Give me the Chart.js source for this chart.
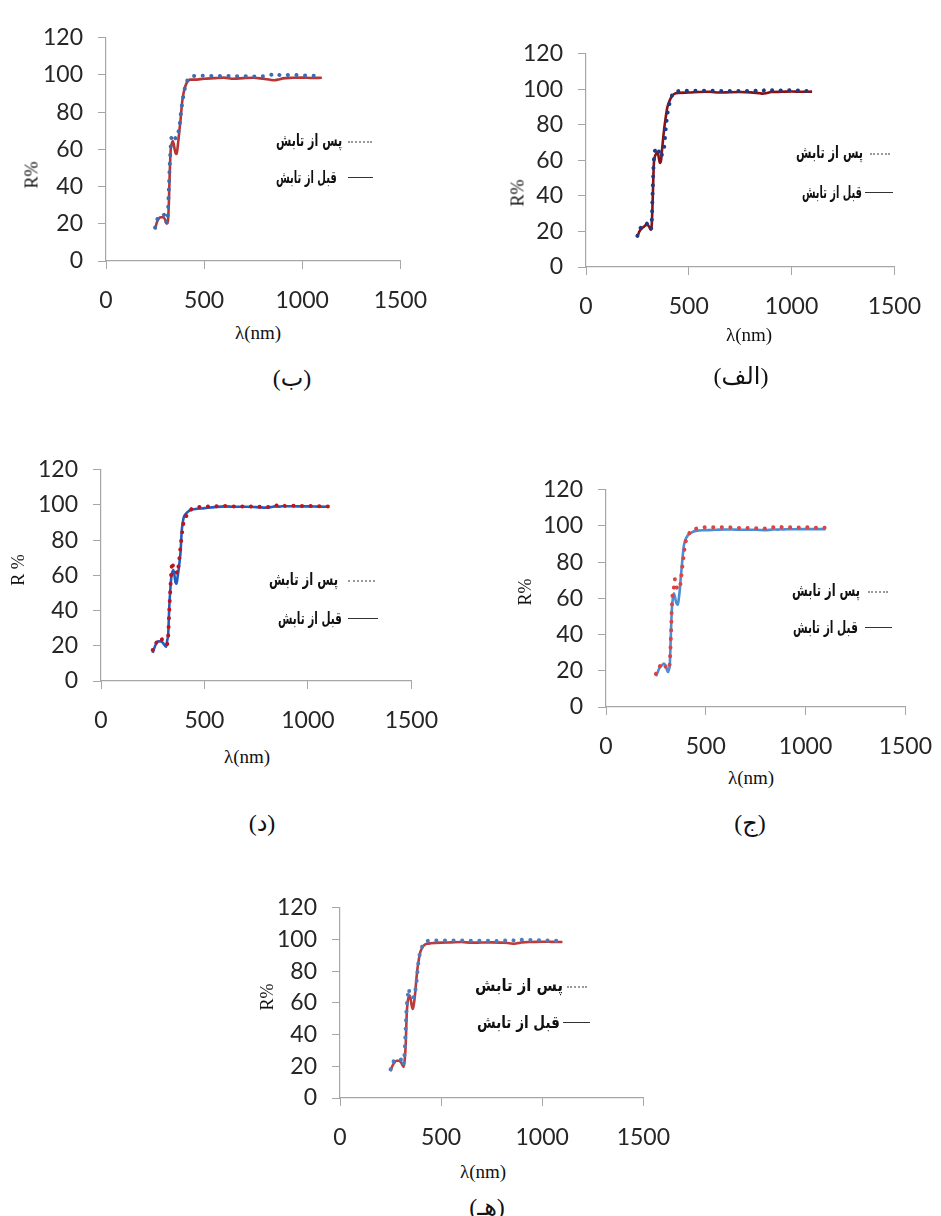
<!DOCTYPE html>
<html>
<head>
<meta charset="utf-8">
<script src="https://cdn.jsdelivr.net/npm/chart.js@4.4.1/dist/chart.umd.min.js"></script>
<style>
  html, body { margin: 0; padding: 0; background: #fff; overflow: hidden; }
  body { width: 941px; height: 1216px; position: relative; }
  canvas { position: absolute; }
  .txt { position: absolute; white-space: nowrap; color: #111; }
  .ytitle { font-family: 'Liberation Serif', serif; font-size: 18px; transform: translate(-50%, -50%) rotate(-90deg); }
  .xtitle { font-family: 'Liberation Serif', serif; font-size: 19px; transform: translate(-50%, -50%); }
  .caption { font-family: 'Liberation Serif', 'DejaVu Sans', serif; font-size: 24px; transform: translate(-50%, -50%); }
  .leg { font-family: 'DejaVu Sans', sans-serif; font-size: 17px; font-weight: bold; direction: rtl; transform-origin: 100% 50%; }
  .sample { position: absolute; height: 0; }
</style>
</head>
<body>
<script>
// wavelength grid (nm), shared by all panels
const wavelength = [250, 260, 270, 280, 290, 300, 310, 315, 320, 325, 330, 335, 340, 345, 350, 355, 360, 365, 370, 375,
  380, 385, 390, 395, 400, 410, 420, 430, 450, 500, 550, 600, 650, 700, 750, 800, 830, 845, 860, 875, 890, 900, 950, 1000, 1050, 1100];

const xTicks = [0, 500, 1000, 1500];
const yTicks = [0, 20, 40, 60, 80, 100, 120];

const labelBefore = 'قبل از تابش';
const labelAfter = 'پس از تابش';

// (الف)
const beforeAlef = [17, 20, 21.5, 22.5, 23.5, 23.8, 22, 21, 24, 40, 58, 62, 63.5, 64.5, 64, 61, 58.5, 60, 66, 72,
  77.5, 82, 86, 89.5, 91.5, 94.5, 96.5, 97.5, 98, 98.2, 98.5, 98.6, 98.2, 98.4, 98.5, 98.3, 98, 97.8, 97.6, 97.8, 98.2, 98.5, 98.6, 98.8, 98.6, 98.7];
const afterAlef = [17.5, 21, 22.5, 24, 24.7, 24, 22, 21, 26, 45, 60, 65, 66.7, 67, 67, 65, 62, 62, 63.5, 64.5,
  67, 74, 80, 85, 89, 93.5, 97, 98.5, 99, 99.2, 99.2, 99.3, 99, 99.1, 99, 99, 99.3, 99.8, 99.2, 99.9, 99.4, 99.5, 99.3, 99.5, 99.2, 99];

// (ب)
const beforeBe = [17, 21, 23, 23.5, 23.5, 22.5, 20, 21, 30, 48, 60, 63, 64.5, 63, 60, 58, 57.5, 61, 66, 71,
  76, 82, 87, 90, 92.5, 95.5, 97, 97.5, 97.5, 98, 98.3, 98.6, 98, 98.3, 98.5, 98, 97.6, 97.3, 97.2, 97.5, 97.8, 98.2, 98.5, 98.6, 98.4, 98.5];
const afterBe = [18, 22, 24, 24.5, 24.5, 25, 20.5, 25, 38, 52, 62, 67.5, 68, 67, 66.5, 66, 66, 67, 70, 73,
  78, 82, 86, 89, 92, 96, 98, 98.8, 99.5, 99.6, 99.5, 99.5, 99.3, 99.4, 99.2, 99.3, 99.8, 100.2, 99.6, 100.3, 99.8, 100, 100, 99.8, 99.6, 99.3];

// (ج)
const beforeJim = [17, 19.5, 22, 23, 24, 22.5, 19.3, 20.5, 24, 40, 54, 60, 62.8, 61, 58.5, 57, 56.5, 60, 65, 72,
  78, 84, 89, 91.5, 93, 94.8, 95.8, 96.5, 97.3, 97.7, 97.9, 98.1, 98, 97.9, 97.9, 97.7, 98, 98.1, 98, 98.2, 98.1, 98.2, 98.2, 98.3, 98.3, 98.3];
const afterJim = [18.3, 20.5, 22.5, 23.5, 24.2, 22, 21, 21.5, 25, 38, 55, 64, 66, 70.6, 66.5, 66, 65.5, 65, 66, 69.5,
  75, 80, 84, 89, 91.5, 94, 96.5, 97.5, 98.5, 99.3, 99.3, 99.4, 99, 98.9, 98.7, 98.6, 99.1, 99.4, 99, 99.5, 99.1, 99.3, 99.2, 99.3, 99.1, 99];

// (د)
const beforeDal = [16, 19.5, 22, 22.5, 22.5, 21.5, 20, 19.5, 23, 27, 42, 52, 59, 62, 63, 60, 56, 55.3, 59, 63,
  68, 74, 85, 90, 93, 95, 96.2, 97, 97.6, 98.2, 98.8, 99.2, 99, 99, 98.8, 98.5, 99, 99.2, 99.1, 99.3, 99.2, 99.3, 99.2, 99.2, 99.1, 99];
const afterDal = [17.5, 21, 22, 23.5, 24.5, 22, 21, 20.5, 21, 26, 40, 52, 62, 67.7, 64, 64, 63, 62, 61, 66,
  71, 77, 82, 87, 90.5, 93, 96, 97, 98.5, 99, 99.3, 99.4, 99.2, 99.2, 99.1, 98.8, 99.2, 99.8, 99.4, 99.9, 99.5, 99.6, 99.5, 99.4, 99.3, 99.2];

// (هـ)
const beforeHe = [17, 20.5, 22.5, 23.5, 23.5, 22.8, 20.5, 19.6, 24, 34, 53, 61, 64, 64.6, 62, 58, 56.2, 59, 64, 71,
  78, 83.5, 87.5, 91, 93, 95.5, 96.8, 97.3, 97.6, 98, 98.2, 98.4, 98, 98.1, 98.2, 98, 97.8, 97.5, 97.3, 97.6, 97.9, 98.2, 98.4, 98.6, 98.5, 98.4];
const afterHe = [18, 21.5, 24, 24, 24.5, 24.5, 20.5, 22, 30, 45, 58, 64, 69, 65, 64.5, 64, 63.5, 63.5, 66, 70,
  75, 82, 88, 91, 93.5, 96.5, 98.2, 99, 99.3, 99.4, 99.4, 99.4, 99.2, 99.3, 99.1, 99.2, 99.5, 100, 99.4, 100.1, 99.6, 99.8, 99.7, 99.5, 99.3, 99];

const axisColor = '#a6a6a6';
const tickFont = { family: 'Lato, "Open Sans", sans-serif', size: 23 };

function addText(cls, text, x, y) {
  const d = document.createElement('div');
  d.className = 'txt ' + cls;
  d.textContent = text;
  d.style.left = x + 'px';
  d.style.top = y + 'px';
  document.body.appendChild(d);
  return d;
}

// legend text: right edge at x, squeezed to the width seen in the figure
function addLegendText(text, x, y, width) {
  const d = addText('leg', text, 0, 0);
  const w = d.offsetWidth, h = d.offsetHeight;
  d.style.left = (x - w) + 'px';
  d.style.top = (y - h / 2) + 'px';
  d.style.transform = 'scaleX(' + (width / w).toFixed(3) + ')';
}

function addSample(style, x1, x2, y) {
  const s = document.createElement('div');
  s.className = 'sample';
  s.style.left = x1 + 'px';
  s.style.top = y + 'px';
  s.style.width = (x2 - x1) + 'px';
  s.style.borderTop = style;
  document.body.appendChild(s);
}

function makePanel(p) {
  const padL = 100, padT = 15, padR = 35, padB = 60;
  const canvas = document.createElement('canvas');
  const w = Math.round(p.area.r - p.area.l) + padL + padR;
  const h = Math.round(p.area.b - p.area.t) + padT + padB;
  canvas.width = w;
  canvas.height = h;
  canvas.style.left = (Math.round(p.area.l) - padL) + 'px';
  canvas.style.top = (Math.round(p.area.t) - padT) + 'px';
  document.body.appendChild(canvas);

  const toPts = arr => wavelength.map((x, i) => ({ x: x, y: arr[i] }));

  new Chart(canvas.getContext('2d'), {
    type: 'line',
    data: {
      datasets: [
        {
          label: labelAfter,
          data: toPts(p.after),
          borderColor: p.afterColor,
          borderWidth: 4,
          borderDash: [0.1, 8.5],
          borderCapStyle: 'round',
          pointRadius: 0,
          cubicInterpolationMode: 'monotone',
          fill: false
        },
        {
          label: labelBefore,
          data: toPts(p.before),
          borderColor: p.beforeColor,
          borderWidth: 2.6,
          pointRadius: 0,
          cubicInterpolationMode: 'monotone',
          fill: false
        }
      ]
    },
    options: {
      responsive: false,
      animation: false,
      layout: { padding: { top: padT, right: padR, left: 0, bottom: 0 } },
      scales: {
        x: {
          type: 'linear',
          min: xTicks[0],
          max: xTicks[xTicks.length - 1],
          afterFit: s => { s.height = padB; },
          afterBuildTicks: s => { s.ticks = xTicks.map(v => ({ value: v })); },
          ticks: { padding: 18, font: tickFont, color: '#262626', maxRotation: 0, callback: v => String(v) },
          grid: { drawOnChartArea: false, tickLength: 8, color: axisColor },
          border: { color: axisColor, width: 1.2 }
        },
        y: {
          min: yTicks[0],
          max: yTicks[yTicks.length - 1],
          afterFit: s => { s.width = padL; },
          afterBuildTicks: s => { s.ticks = yTicks.map(v => ({ value: v })); },
          ticks: { padding: 15, font: tickFont, color: '#262626', callback: v => String(v) },
          grid: { drawOnChartArea: false, tickLength: 8, color: axisColor },
          border: { color: axisColor, width: 1.2 }
        }
      },
      plugins: { legend: { display: false }, tooltip: { enabled: false } }
    }
  });

  addText('ytitle', p.yTitle, p.yT[0], p.yT[1]);
  addText('xtitle', 'λ(nm)', p.xT[0], p.xT[1]);
  addText('caption', p.caption, p.cap[0], p.cap[1]);
  // legend, typed as in the original figure
  addLegendText(labelAfter, p.leg1[0], p.leg1[1], p.leg1[2]);
  addSample('2px dotted #9a9a9a', p.s1[0], p.s1[1], p.leg1[1] + 1);
  addLegendText(labelBefore, p.leg2[0], p.leg2[1], p.leg2[2]);
  addSample('1.5px solid #333', p.s2[0], p.s2[1], p.leg2[1]);
}

const panels = [
  { caption: '(ب)', before: beforeBe, after: afterBe, beforeColor: '#b93535', afterColor: '#3b6db2',
    area: { l: 106, t: 24, r: 410, b: 261 }, yTitle: 'R%', yT: [32, 175], xT: [258, 333], cap: [292, 378],
    leg1: [342, 140, 66], s1: [348, 372], leg2: [337, 177, 61], s2: [348, 373] },
  { caption: '(الف)', before: beforeAlef, after: afterAlef, beforeColor: '#8a1212', afterColor: '#1d3a86',
    area: { l: 586, t: 40, r: 904, b: 267 }, yTitle: 'R%', yT: [518, 193], xT: [749, 335], cap: [741, 376],
    leg1: [863, 152, 67], s1: [870, 890], leg2: [862, 192, 60], s2: [865, 893] },
  { caption: '(د)', before: beforeDal, after: afterDal, beforeColor: '#1f5fc2', afterColor: '#c0141c',
    area: { l: 101, t: 456, r: 421, b: 681 }, yTitle: 'R %', yT: [18, 570], xT: [247, 757], cap: [262, 823],
    leg1: [338, 579, 69], s1: [348, 375], leg2: [342, 618, 64], s2: [348, 378] },
  { caption: '(ج)', before: beforeJim, after: afterJim, beforeColor: '#4a8ed6', afterColor: '#df4241',
    area: { l: 606, t: 476, r: 915, b: 707 }, yTitle: 'R%', yT: [525, 592], xT: [751, 778], cap: [750, 823],
    leg1: [860, 590, 68], s1: [868, 888], leg2: [858, 627, 65], s2: [865, 892] },
  { caption: '(هـ)', before: beforeHe, after: afterHe, beforeColor: '#bd3b3b', afterColor: '#4a7cc0',
    area: { l: 340, t: 894, r: 653, b: 1098 }, yTitle: 'R%', yT: [267, 997], xT: [483, 1172], cap: [487, 1207],
    leg1: [563, 985, 88], s1: [567, 587], leg2: [560, 1022, 83], s2: [563, 590] }
];

panels.forEach(makePanel);
</script>
</body>
</html>
